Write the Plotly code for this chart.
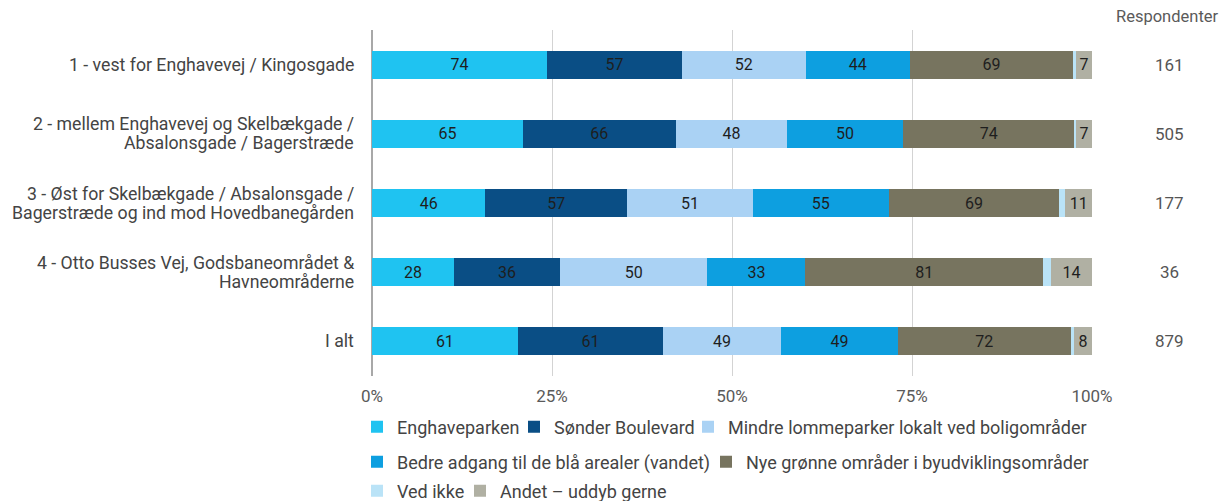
import plotly.graph_objects as go

categories = [
    "1 - vest for Enghavevej / Kingosgade",
    "2 - mellem Enghavevej og Skelbækgade /<br>Absalonsgade / Bagerstræde",
    "3 - Øst for Skelbækgade / Absalonsgade /<br>Bagerstræde og ind mod Hovedbanegården",
    "4 - Otto Busses Vej, Godsbaneområdet &<br>Havneområderne",
    "I alt",
]
respondents = [161, 505, 177, 36, 879]

series_names = [
    "Enghaveparken",
    "Sønder Boulevard",
    "Mindre lommeparker lokalt ved boligområder",
    "Bedre adgang til de blå arealer (vandet)",
    "Nye grønne områder i byudviklingsområder",
    "Ved ikke",
    "Andet – uddyb gerne",
]
enghaveparken = [73.9, 65.0, 45.8, 27.8, 61.0]
sonder_boulevard = [57.1, 65.9, 57.1, 36.1, 61.0]
lommeparker = [52.2, 47.9, 50.8, 50.0, 49.1]
blaa_arealer = [44.1, 49.9, 54.8, 33.3, 49.1]
nye_groenne = [68.9, 74.1, 68.9, 80.6, 72.2]
ved_ikke = [1.2, 0.5, 2.5, 2.8, 1.4]
andet = [6.8, 6.9, 10.7, 13.9, 7.6]

series_values = [enghaveparken, sonder_boulevard, lommeparker, blaa_arealer,
                 nye_groenne, ved_ikke, andet]
colors = ["#1FC3F1", "#0A4E85", "#AAD2F4", "#0D9FE0", "#77745F", "#BAE3F7", "#B0B0A3"]
show_label = [True, True, True, True, True, False, True]

x_ticks = [0, 25, 50, 75, 100]
x_tick_labels = ["0%", "25%", "50%", "75%", "100%"]

FONT = "Roboto"
# the page body has an 8px default margin, so the figure is 8px smaller
W, H = 1220, 493

# legend layout: one legend per entry (figure pixel positions: left x, center y)
legend_pos = [(349, 419), (506, 419), (680, 419),
              (349, 454), (698, 454),
              (349, 483), (452, 483)]

fig = go.Figure()
legend_layout = {}
for i, (name, vals, col, show) in enumerate(zip(series_names, series_values, colors, show_label)):
    lg = "legend" if i == 0 else f"legend{i + 1}"
    fig.add_trace(go.Bar(
        y=categories,
        x=vals,
        name=name,
        orientation="h",
        legend=lg,
        marker=dict(color=col, line=dict(width=0)),
        text=[f"{v:.0f}" for v in vals] if show else None,
        textposition="inside" if show else "none",
        insidetextanchor="middle",
        textangle=0,
        constraintext="none",
        insidetextfont=dict(family=FONT, size=16, color="#1E1E1E"),
        hoverinfo="x+name",
    ))
    px, py = legend_pos[i]
    legend_layout[lg] = dict(
        orientation="h",
        xref="container", yref="container",
        x=px / W, xanchor="left",
        y=1 - py / H, yanchor="middle",
        font=dict(family=FONT, size=18, color="#444444"),
        itemwidth=30,
        bgcolor="rgba(0,0,0,0)",
    )

fig.update_layout(
    barmode="stack",
    barnorm="percent",
    bargap=0.595,
    width=W,
    height=H,
    margin=dict(l=364, r=136, t=22, b=125, autoexpand=False),
    paper_bgcolor="white",
    plot_bgcolor="white",
    font=dict(family=FONT, size=18, color="#444444"),
    showlegend=True,
    **legend_layout,
)

fig.update_xaxes(
    range=[0, 100],
    tickvals=x_ticks,
    ticktext=x_tick_labels,
    showgrid=True,
    gridcolor="#d3d3d3",
    gridwidth=1,
    zeroline=True,
    zerolinecolor="#a8a8a8",
    zerolinewidth=2,
    showline=False,
    ticks="",
    ticklabelstandoff=8,
    tickfont=dict(family=FONT, size=17, color="#5a5a5a"),
    automargin=False,
    fixedrange=True,
)
fig.update_yaxes(
    autorange="reversed",
    showgrid=False,
    ticks="",
    showticklabels=False,
    automargin=False,
    fixedrange=True,
)

# category labels, one annotation per line for tight line spacing
LINE = 19
for cat in categories:
    lines = cat.split("<br>")
    n = len(lines)
    for j, line in enumerate(lines):
        fig.add_annotation(
            text=line, xref="paper", yref="y",
            x=0, y=cat, xanchor="right", yanchor="middle",
            xshift=-16, yshift=((n - 1) / 2 - j) * LINE,
            showarrow=False, font=dict(family=FONT, size=17.7, color="#444444"),
        )

fig.add_annotation(
    text="Respondenter", xref="paper", yref="paper",
    x=1.105, y=1, xanchor="center", yanchor="middle", yshift=14,
    showarrow=False, font=dict(family=FONT, size=16.5, color="#5a5a5a"),
)
for cat, r in zip(categories, respondents):
    fig.add_annotation(
        text=str(r), xref="paper", yref="y",
        x=1.1083, y=cat, xanchor="center", yanchor="middle",
        showarrow=False, font=dict(family=FONT, size=17, color="#555555"),
    )

fig.write_html("out.html")
